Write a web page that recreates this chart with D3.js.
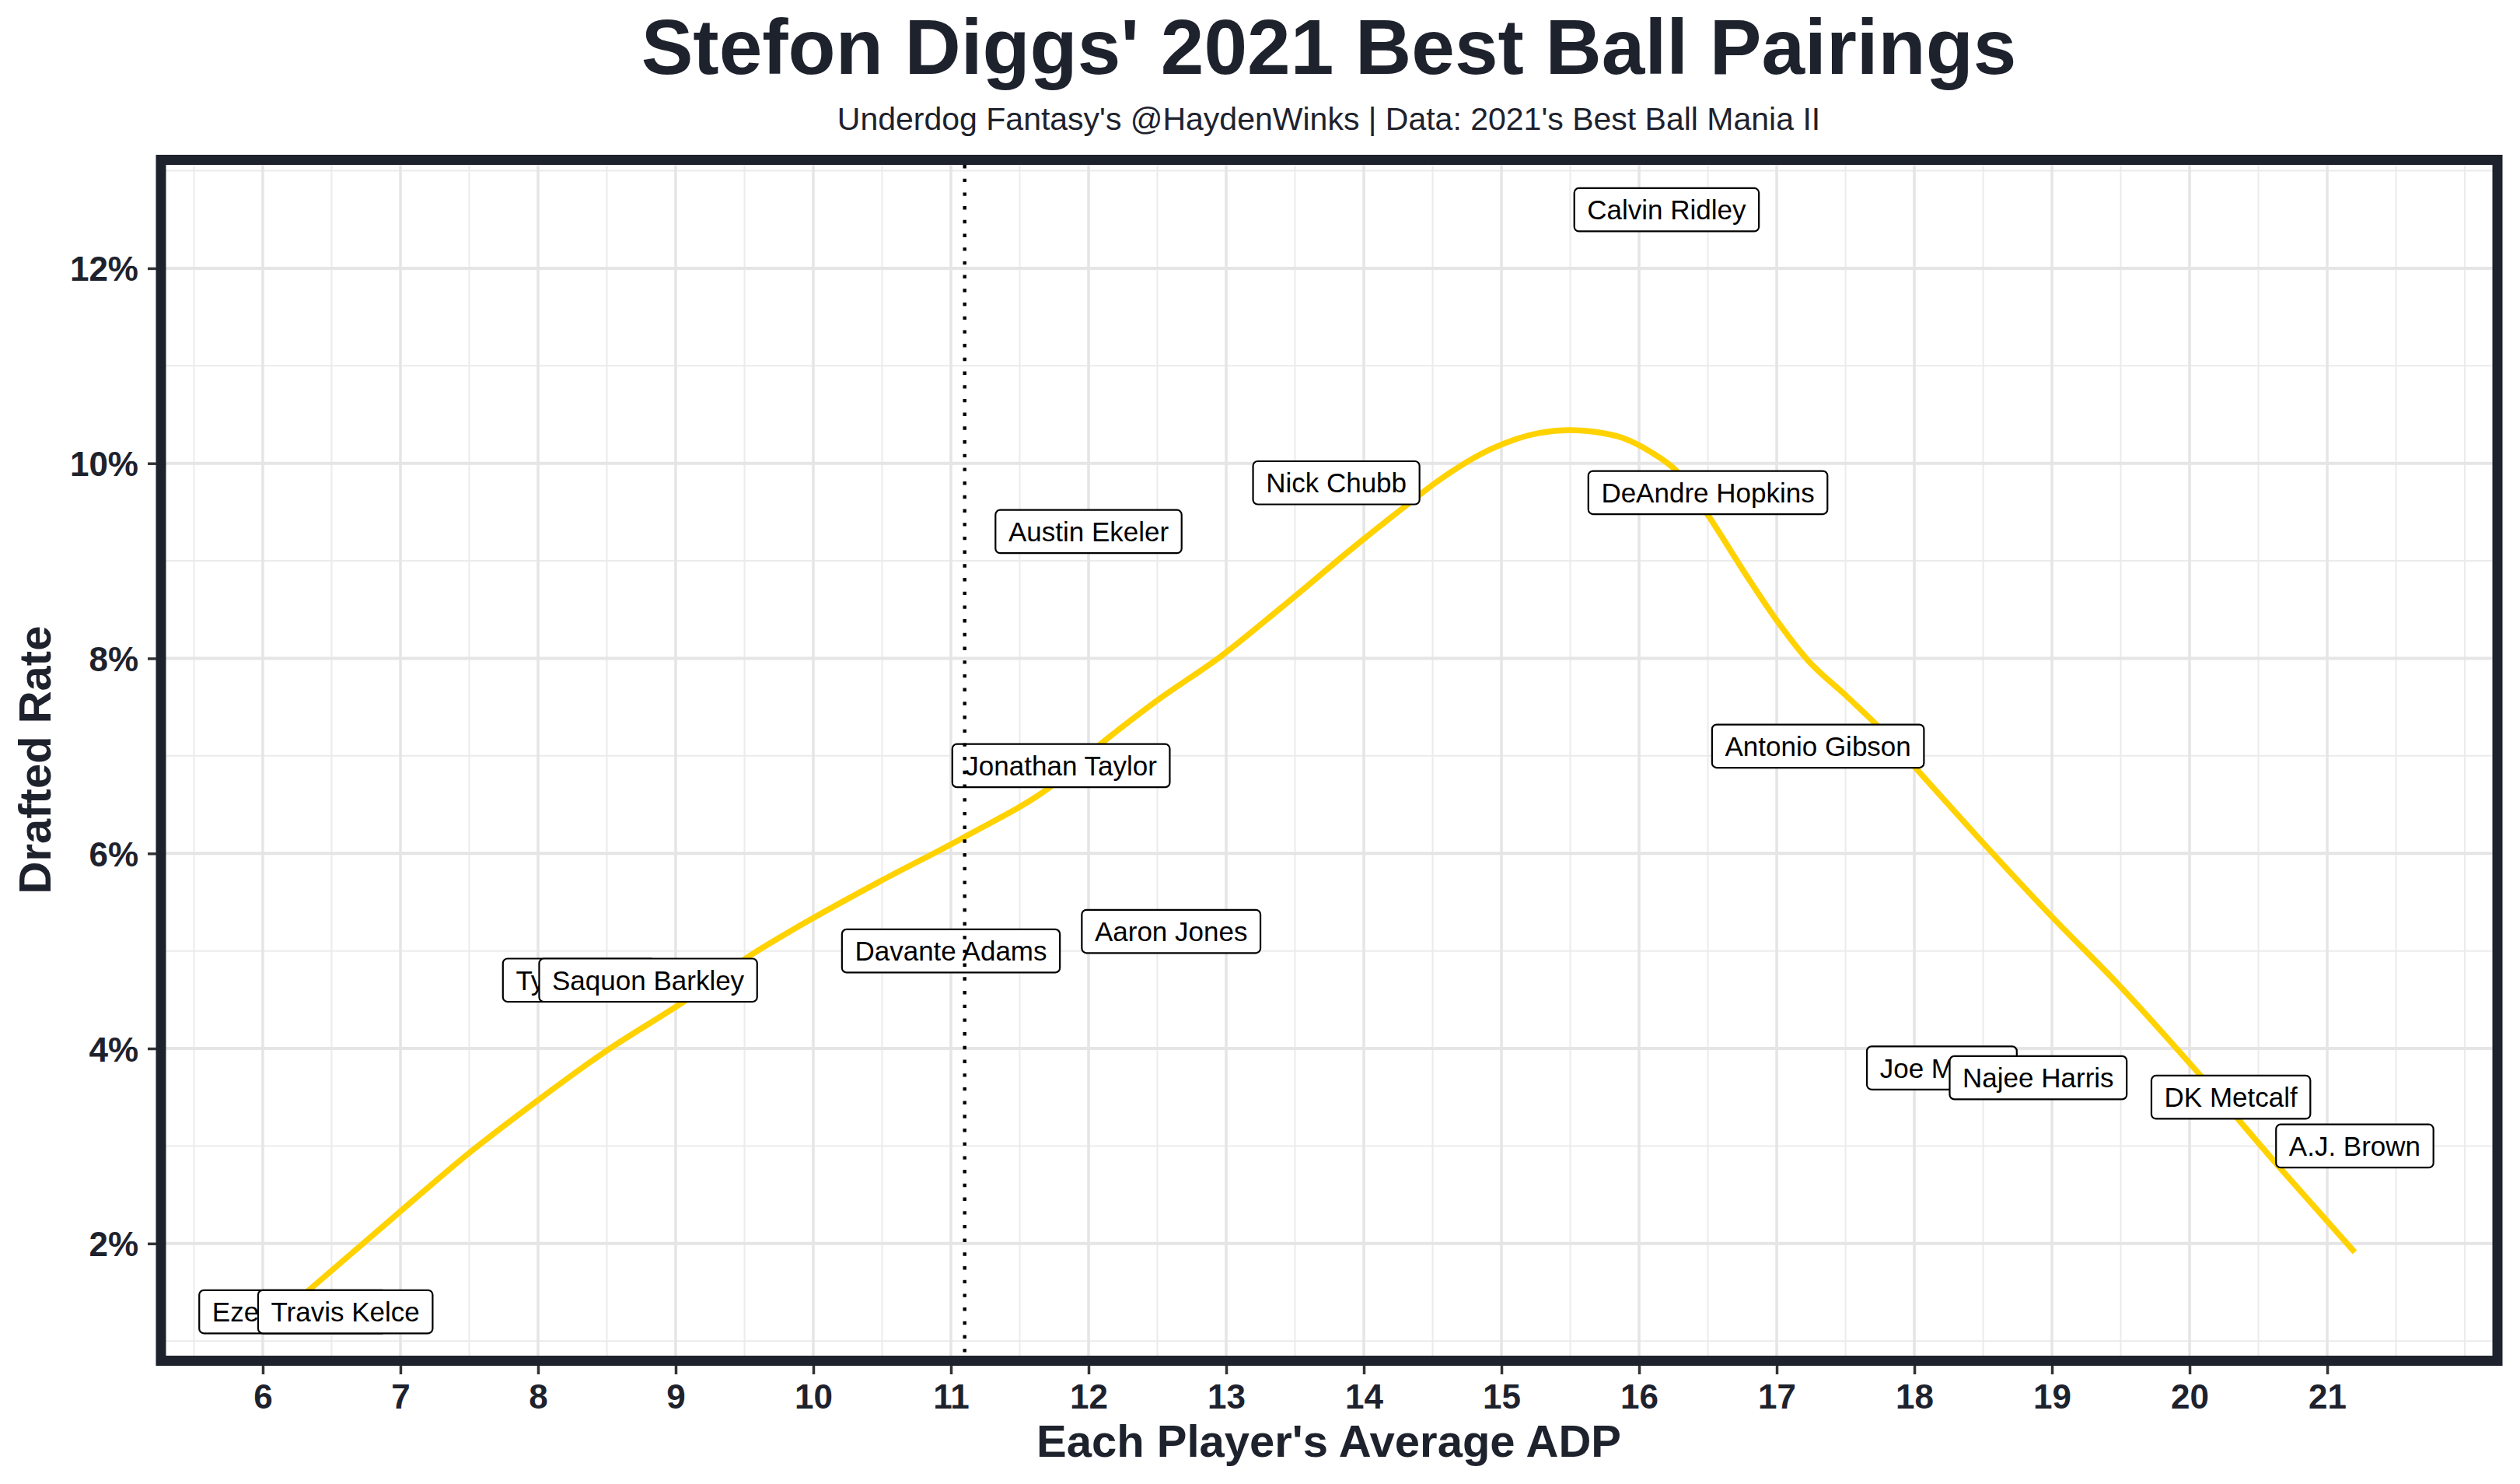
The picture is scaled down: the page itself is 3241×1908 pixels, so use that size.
<!DOCTYPE html>
<html>
<head>
<meta charset="utf-8">
<script src="https://cdn.jsdelivr.net/npm/d3@7"></script>
<style>
  html, body { margin: 0; padding: 0; background: #ffffff; }
  svg { display: block; }
  text { font-family: "Liberation Sans", Arial, Helvetica, sans-serif; }
</style>
</head>
<body>
<svg id="chart" width="3241" height="1908"></svg>
<script>
// ---------------- data ----------------
const players = ["Ezekiel Elliott", "Travis Kelce", "Tyreek Hill", "Saquon Barkley", "Davante Adams",
  "Jonathan Taylor", "Austin Ekeler", "Aaron Jones", "Nick Chubb", "Calvin Ridley", "DeAndre Hopkins",
  "Antonio Gibson", "Joe Mixon", "Najee Harris", "DK Metcalf", "A.J. Brown"];
const playerAdp = [6.22, 6.6, 8.3, 8.8, 11.0, 11.8, 12.0, 12.6, 13.8, 16.2, 16.5, 17.3, 18.2, 18.9, 20.3, 21.2];
const draftedRate = [1.3, 1.3, 4.7, 4.7, 5.0, 6.9, 9.3, 5.2, 9.8, 12.6, 9.7, 7.1, 3.8, 3.7, 3.5, 3.0];

// smoothed trend line
const trendAdp = [6.22, 6.35, 7.0, 7.51, 8.0, 8.48, 9.08, 9.56, 9.99, 10.48, 11.1, 11.73, 12.13, 12.48,
  12.97, 13.4, 13.97, 14.31, 14.53, 14.93, 15.27, 15.5, 15.69, 15.88, 16.08, 16.28, 16.5, 16.78, 17.01,
  17.22, 17.51, 17.76, 18.02, 18.35, 19.0, 19.48, 20.05, 20.66, 21.2];
const trendRate = [1.38, 1.54, 2.33, 2.94, 3.47, 3.96, 4.5, 4.97, 5.33, 5.71, 6.17, 6.69, 7.17, 7.55,
  8.03, 8.52, 9.19, 9.57, 9.81, 10.15, 10.31, 10.34, 10.32, 10.26, 10.12, 9.91, 9.47, 8.85, 8.37,
  7.99, 7.61, 7.27, 6.86, 6.34, 5.35, 4.66, 3.77, 2.77, 1.91];

const diggsAdp = 11.1;
const xTicks = [6, 7, 8, 9, 10, 11, 12, 13, 14, 15, 16, 17, 18, 19, 20, 21];
const yTicks = [2, 4, 6, 8, 10, 12];
const xMinor = d3.range(5, 22.01, 0.5);
const yMinor = [1, 3, 5, 7, 9, 11, 13];

const titleText = "Stefon Diggs' 2021 Best Ball Pairings";
const subtitleText = "Underdog Fantasy's @HaydenWinks | Data: 2021's Best Ball Mania II";
const xTitle = "Each Player's Average ADP";
const yTitle = "Drafted Rate";

// ---------------- layout ----------------
const dark = "#1e222d";
const panel = { left: 213, right: 3206, top: 212, bottom: 1743 };
const svg = d3.select("#chart");

const x = d3.scaleLinear().domain([5.294, 22.203]).range([panel.left, panel.right]);
const y = d3.scaleLinear().domain([0.85, 13.06]).range([panel.bottom, panel.top]);

svg.append("rect").attr("width", 3241).attr("height", 1908).attr("fill", "#fff");

svg.append("clipPath").attr("id", "pclip").append("rect")
  .attr("x", panel.left).attr("y", panel.top)
  .attr("width", panel.right - panel.left).attr("height", panel.bottom - panel.top);

const g = svg.append("g").attr("clip-path", "url(#pclip)");

// minor grid
g.selectAll(".vminor").data(xMinor).join("line")
  .attr("x1", d => x(d)).attr("x2", d => x(d)).attr("y1", panel.top).attr("y2", panel.bottom)
  .attr("stroke", "#ebebeb").attr("stroke-width", 2);
g.selectAll(".hminor").data(yMinor).join("line")
  .attr("y1", d => y(d)).attr("y2", d => y(d)).attr("x1", panel.left).attr("x2", panel.right)
  .attr("stroke", "#ebebeb").attr("stroke-width", 2);
// major grid
g.selectAll(".vmajor").data(xTicks).join("line")
  .attr("x1", d => x(d)).attr("x2", d => x(d)).attr("y1", panel.top).attr("y2", panel.bottom)
  .attr("stroke", "#e5e5e5").attr("stroke-width", 3.5);
g.selectAll(".hmajor").data(yTicks).join("line")
  .attr("y1", d => y(d)).attr("y2", d => y(d)).attr("x1", panel.left).attr("x2", panel.right)
  .attr("stroke", "#e5e5e5").attr("stroke-width", 4);

// trend line
const trend = trendAdp.map((a, i) => [a, trendRate[i]]);
g.append("path").datum(trend)
  .attr("d", d3.line().x(d => x(d[0])).y(d => y(d[1])).curve(d3.curveMonotoneX))
  .attr("fill", "none").attr("stroke", "#ffd200").attr("stroke-width", 7.5)
  .attr("stroke-linejoin", "round");

// labels
const fontSize = 35, padX = 16.6, boxH = 55.5;
players.forEach((name, i) => {
  const cx = x(playerAdp[i]), cy = y(draftedRate[i]);
  const lg = g.append("g");
  const t = lg.append("text").attr("x", cx).attr("y", cy + 0.716 * fontSize / 2)
    .attr("text-anchor", "middle").attr("font-size", fontSize).attr("fill", "#000").text(name);
  const w = t.node().getComputedTextLength() + 2 * padX;
  lg.insert("rect", "text").attr("x", cx - w / 2).attr("y", cy - boxH / 2)
    .attr("width", w).attr("height", boxH).attr("rx", 6).attr("ry", 6)
    .attr("fill", "#fff").attr("stroke", "#000").attr("stroke-width", 2.2);
});

// Diggs' ADP line
g.append("line").attr("x1", x(diggsAdp)).attr("x2", x(diggsAdp))
  .attr("y1", panel.top).attr("y2", panel.bottom)
  .attr("stroke", "#000").attr("stroke-width", 4.4).attr("stroke-dasharray", "4.4 13.3");

// panel border
svg.append("rect").attr("x", 207).attr("y", 205.5).attr("width", 3005).attr("height", 1544)
  .attr("fill", "none").attr("stroke", dark).attr("stroke-width", 13);

// axes ticks
const xAxis = d3.axisBottom(x).tickValues(xTicks).tickFormat(d3.format("d")).tickSize(11).tickPadding(0);
const xa = svg.append("g").attr("transform", `translate(0,1756)`).call(xAxis);
xa.select(".domain").remove();
xa.selectAll(".tick line").attr("stroke", "#333").attr("stroke-width", 3.5);
xa.selectAll(".tick text").attr("font-size", 44).attr("font-weight", "bold").attr("fill", dark)
  .attr("dy", null).attr("y", 55);

const yAxis = d3.axisLeft(y).tickValues(yTicks).tickFormat(d => d + "%").tickSize(11).tickPadding(0);
const ya = svg.append("g").attr("transform", `translate(201,0)`).call(yAxis);
ya.select(".domain").remove();
ya.selectAll(".tick line").attr("stroke", "#333").attr("stroke-width", 3.5);
ya.selectAll(".tick text").attr("font-size", 44).attr("font-weight", "bold").attr("fill", dark)
  .attr("dy", null).attr("x", -23).attr("y", 16);

// titles
svg.append("text").attr("x", 1709).attr("y", 95).attr("text-anchor", "middle")
  .attr("font-size", 100).attr("font-weight", "bold").attr("fill", dark).text(titleText);
svg.append("text").attr("x", 1709).attr("y", 167).attr("text-anchor", "middle")
  .attr("font-size", 41).attr("fill", dark).text(subtitleText);
svg.append("text").attr("x", 1709).attr("y", 1873).attr("text-anchor", "middle")
  .attr("font-size", 58).attr("font-weight", "bold").attr("fill", dark).text(xTitle);
svg.append("text").attr("transform", "translate(65,977) rotate(-90)").attr("text-anchor", "middle")
  .attr("font-size", 58).attr("font-weight", "bold").attr("fill", dark).text(yTitle);
</script>
</body>
</html>
